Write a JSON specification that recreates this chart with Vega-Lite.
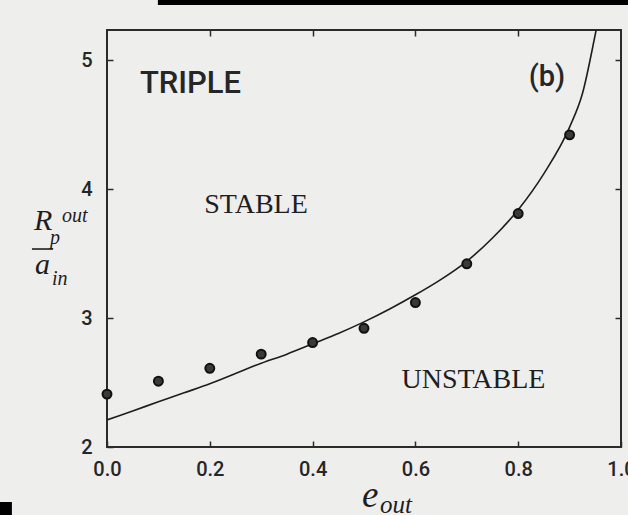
{
  "$schema": "https://vega.github.io/schema/vega-lite/v6.json",
  "width": 514,
  "height": 417,
  "autosize": {"type": "none"},
  "padding": {"left": 107, "top": 30, "right": 7, "bottom": 68},
  "background": "#eeeeec",
  "config": {
    "view": {"stroke": "#2b2b2b", "strokeWidth": 2},
    "axis": {
      "grid": false,
      "domain": false,
      "ticks": true,
      "tickSize": -6,
      "tickColor": "#2b2b2b",
      "tickWidth": 1.5,
      "labelFont": "Roboto",
      "labelFontSize": 20,
      "labelFontWeight": 500,
      "labelColor": "#262626",
      "labelFlush": false,
      "labelOverlap": false,
      "title": null
    }
  },
  "encoding": {
    "x": {"field": "x", "type": "quantitative", "scale": {"domain": [0, 1], "nice": false, "zero": false}, "axis": null},
    "y": {"field": "y", "type": "quantitative", "scale": {"domain": [2, 5.233], "nice": false, "zero": false}, "axis": null}
  },
  "resolve": {"axis": {"x": "independent", "y": "independent"}},
  "layer": [
    {
      "data": {"values": [
        {"x": 0.0, "y": 2.21}, {"x": 0.05, "y": 2.28}, {"x": 0.1, "y": 2.35}, {"x": 0.15, "y": 2.42},
        {"x": 0.2, "y": 2.49}, {"x": 0.25, "y": 2.57}, {"x": 0.3, "y": 2.65}, {"x": 0.35, "y": 2.72},
        {"x": 0.4, "y": 2.8}, {"x": 0.45, "y": 2.88}, {"x": 0.5, "y": 2.97}, {"x": 0.55, "y": 3.07},
        {"x": 0.6, "y": 3.18}, {"x": 0.65, "y": 3.3}, {"x": 0.7, "y": 3.44}, {"x": 0.75, "y": 3.62},
        {"x": 0.8, "y": 3.84}, {"x": 0.85, "y": 4.12}, {"x": 0.9, "y": 4.48}, {"x": 0.925, "y": 4.74},
        {"x": 0.95, "y": 5.2}, {"x": 0.96, "y": 5.4}
      ]},
      "mark": {"type": "line", "clip": true, "interpolate": "monotone", "color": "#1e1e1e", "strokeWidth": 1.6},
      "encoding": {
        "x": {"field": "x", "type": "quantitative", "scale": {"domain": [0, 1], "nice": false, "zero": false},
              "axis": {"orient": "bottom", "values": [0, 0.2, 0.4, 0.6, 0.8, 1.0], "format": ".1f", "labelPadding": 18, "title": null}},
        "y": {"field": "y", "type": "quantitative", "scale": {"domain": [2, 5.233], "nice": false, "zero": false},
              "axis": {"orient": "left", "values": [2, 3, 4, 5], "format": "d", "labelPadding": 21, "title": null}}
      }
    },
    {
      "data": {"values": [
        {"x": 0.0, "y": 2.41}, {"x": 0.1, "y": 2.51}, {"x": 0.2, "y": 2.61}, {"x": 0.3, "y": 2.72},
        {"x": 0.4, "y": 2.81}, {"x": 0.5, "y": 2.92}, {"x": 0.6, "y": 3.12}, {"x": 0.7, "y": 3.42},
        {"x": 0.8, "y": 3.81}, {"x": 0.9, "y": 4.42}
      ]},
      "mark": {"type": "point", "shape": "circle", "filled": true, "size": 80, "fill": "#3a3a3a", "stroke": "#111111", "strokeWidth": 2, "opacity": 1},
      "encoding": {
        "x": {"field": "x", "type": "quantitative", "scale": {"domain": [0, 1], "nice": false, "zero": false},
              "axis": {"orient": "top", "values": [0.2, 0.4, 0.6, 0.8], "labels": false, "title": null}},
        "y": {"field": "y", "type": "quantitative", "scale": {"domain": [2, 5.233], "nice": false, "zero": false},
              "axis": {"orient": "right", "values": [3, 4, 5], "labels": false, "title": null}}
      }
    },
    {
      "data": {"values": [{"x": 0.064, "y": 4.744, "t": "TRIPLE"}]},
      "mark": {"type": "text", "font": "Roboto", "fontWeight": 500, "fontSize": 31, "align": "left", "baseline": "alphabetic", "color": "#262626"},
      "encoding": {"text": {"field": "t"}}
    },
    {
      "data": {"values": [{"x": 0.856, "y": 4.8, "t": "(b)"}]},
      "mark": {"type": "text", "font": "Roboto", "fontWeight": 500, "fontSize": 29, "align": "center", "baseline": "alphabetic", "color": "#262626"},
      "encoding": {"text": {"field": "t"}}
    },
    {
      "data": {"values": [
        {"x": 0.29, "y": 3.814, "t": "STABLE"},
        {"x": 0.713, "y": 2.457, "t": "UNSTABLE"}
      ]},
      "mark": {"type": "text", "font": "Liberation Serif", "fontSize": 28, "align": "center", "baseline": "alphabetic", "color": "#1e1e1e"},
      "encoding": {"text": {"field": "t"}}
    },
    {
      "data": {"values": [
        {"x": -0.142, "y": 3.682, "t": "R"},
        {"x": -0.14, "y": 3.341, "t": "a"}
      ]},
      "mark": {"type": "text", "font": "Liberation Serif", "fontStyle": "italic", "fontSize": 30, "align": "left", "baseline": "alphabetic", "color": "#1e1e1e"},
      "encoding": {"text": {"field": "t"}}
    },
    {
      "data": {"values": [
        {"x": -0.0875, "y": 3.744, "t": "out"},
        {"x": -0.111, "y": 3.574, "t": "p"},
        {"x": -0.107, "y": 3.256, "t": "in"}
      ]},
      "mark": {"type": "text", "font": "Liberation Serif", "fontStyle": "italic", "fontSize": 20, "align": "left", "baseline": "alphabetic", "color": "#1e1e1e"},
      "encoding": {"text": {"field": "t"}}
    },
    {
      "data": {"values": [{"x": -0.146, "x2": -0.105, "y": 3.535}]},
      "mark": {"type": "rule", "color": "#1e1e1e", "strokeWidth": 1.6},
      "encoding": {"x2": {"field": "x2"}}
    },
    {
      "data": {"values": [{"x": 0.496, "y": 1.535, "t": "e"}]},
      "mark": {"type": "text", "font": "Liberation Serif", "fontStyle": "italic", "fontSize": 37, "align": "left", "baseline": "alphabetic", "color": "#1e1e1e"},
      "encoding": {"text": {"field": "t"}}
    },
    {
      "data": {"values": [{"x": 0.531, "y": 1.49, "t": "out"}]},
      "mark": {"type": "text", "font": "Liberation Serif", "fontStyle": "italic", "fontSize": 25, "align": "left", "baseline": "alphabetic", "color": "#1e1e1e"},
      "encoding": {"text": {"field": "t"}}
    },
    {
      "data": {"values": [
        {"x": 0.099, "x2": 1.02, "y": 5.427, "y2": 5.6},
        {"x": -0.25, "x2": -0.185, "y": 1.574, "y2": 1.3}
      ]},
      "mark": {"type": "rect", "color": "#000000"},
      "encoding": {"x2": {"field": "x2"}, "y2": {"field": "y2"}}
    }
  ]
}
